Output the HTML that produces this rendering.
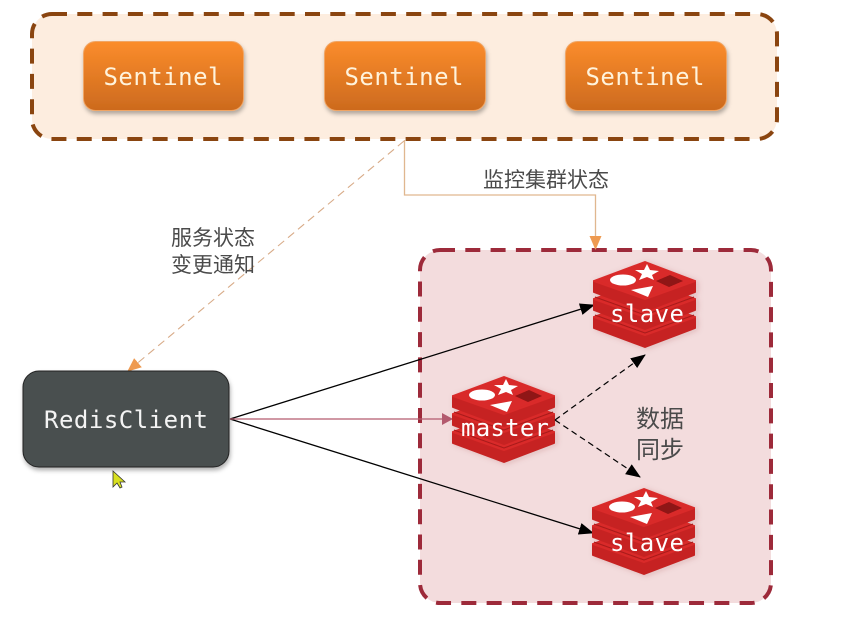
<!DOCTYPE html>
<html>
<head>
<meta charset="utf-8">
<style>
html,body{margin:0;padding:0;background:#fff;width:851px;height:617px;overflow:hidden}
svg{display:block}
.m{font-family:"DejaVu Sans Mono","Liberation Mono",monospace;font-size:24px;text-anchor:middle}
.c{font-family:"Liberation Sans","Noto Sans CJK SC",sans-serif;fill:#4a4a4a}
</style>
</head>
<body>
<svg width="851" height="617" viewBox="0 0 851 617" xmlns="http://www.w3.org/2000/svg">
<defs>
<linearGradient id="o" x1="0" y1="0" x2="0" y2="1">
<stop offset="0" stop-color="#fb8c2b"/><stop offset="1" stop-color="#cc6a1e"/>
</linearGradient>
<filter id="s" x="-10%" y="-10%" width="120%" height="130%"><feDropShadow dx="1" dy="3" stdDeviation="2" flood-color="#000" flood-opacity=".3"/></filter>
<filter id="b" x="-10%" y="-10%" width="120%" height="120%"><feDropShadow dx="2" dy="1" stdDeviation="3" flood-color="#7a2020" flood-opacity=".18"/></filter>
<marker id="ao" markerWidth="14" markerHeight="14" refX="13" refY="7" orient="auto" markerUnits="userSpaceOnUse"><path d="M0 1L14 7L0 13Z" fill="#ee9a50"/></marker>
<marker id="ak" markerWidth="15" markerHeight="14" refX="14" refY="7" orient="auto" markerUnits="userSpaceOnUse"><path d="M0 1L15 7L0 13Z" fill="#000"/></marker>
<marker id="ar" markerWidth="11" markerHeight="12" refX="10" refY="6" orient="auto" markerUnits="userSpaceOnUse"><path d="M0 0L11 6L0 12Z" fill="#b35a6e"/></marker>
<g id="l" stroke-linejoin="round">
<path d="M1 20V31L52 50L102 31V20Z" fill="#c62221" stroke="#c62221" stroke-width="2"/>
<path d="M1 20L52 1L102 20L52 38Z" fill="#d92a29" stroke="#d92a29" stroke-width="2"/>
</g>
<g id="r">
<use href="#l" y="36"/>
<path d="M2 54L52 72L101 54" fill="none" stroke="#a81a1a" stroke-width="1"/>
<use href="#l" y="18"/>
<path d="M2 36L52 54L101 36" fill="none" stroke="#a81a1a" stroke-width="1"/>
<use href="#l"/>
<path d="M54 3L57 9L66 10L59 14L61 19L54 16L46 19L49 13L42 9L51 9Z" fill="#fff"/>
<ellipse cx="30" cy="19" rx="13" ry="5.500" fill="#fff"/>
<path d="M38 29L60 25L55 36Z" fill="#fff"/>
<path d="M63 20L77 14L90 20L76 26Z" fill="#8f1212"/>
</g>
</defs>
<rect x="32" y="14" width="745" height="125" rx="20" fill="#fdeddf" stroke="#8a4510" stroke-width="4" stroke-dasharray="15 10.3"/>
<rect x="420" y="250" width="351" height="353" rx="20" fill="#f3dcdd" stroke="#9d2a3a" stroke-width="4" stroke-dasharray="15 10.3"/>
<rect x="83.500" y="41.500" width="160" height="69" rx="12" fill="url(#o)" stroke="#f0a565" filter="url(#s)"/>
<rect x="324.500" y="41.500" width="161" height="69" rx="12" fill="url(#o)" stroke="#f0a565" filter="url(#s)"/>
<rect x="565.500" y="41.500" width="161" height="69" rx="12" fill="url(#o)" stroke="#f0a565" filter="url(#s)"/>
<text x="163" y="85" class="m" fill="#fff3dc" textLength="119">Sentinel</text>
<text x="404" y="85" class="m" fill="#fff3dc" textLength="119">Sentinel</text>
<text x="645" y="85" class="m" fill="#fff3dc" textLength="119">Sentinel</text>
<path d="M404.500 140V195H595.500V249" fill="none" stroke="#e0b78f" stroke-width="1.300" marker-end="url(#ao)"/>
<path d="M404 141L128 371" fill="none" stroke="#d8ab88" stroke-width="1.100" stroke-dasharray="8 5" marker-end="url(#ao)"/>
<rect x="23" y="371" width="206" height="96" rx="16" fill="#4a5050" stroke="#222" stroke-width="1" filter="url(#s)"/>
<text x="126" y="428" class="m" fill="#f4f4f4" textLength="164">RedisClient</text>
<path d="M230 419L594 305" stroke="#000" stroke-width="1.300" marker-end="url(#ak)"/>
<path d="M230 419L593 533" stroke="#000" stroke-width="1.300" marker-end="url(#ak)"/>
<path d="M230 419H452" stroke="#b35a6e" stroke-width="1.300" marker-end="url(#ar)"/>
<use href="#r" x="593" y="261" filter="url(#b)"/>
<use href="#r" x="452" y="376" filter="url(#b)"/>
<use href="#r" x="592" y="488" filter="url(#b)"/>
<path d="M555 420L645 355" stroke="#000" stroke-width="1.200" stroke-dasharray="6 4" marker-end="url(#ak)"/>
<path d="M555 420L640 477" stroke="#000" stroke-width="1.200" stroke-dasharray="6 4" marker-end="url(#ak)"/>
<text x="647" y="322" class="m" fill="#fff" textLength="74">slave</text>
<text x="505" y="436" class="m" fill="#fff" textLength="88">master</text>
<text x="647" y="551" class="m" fill="#fff" textLength="74">slave</text>
<text x="483" y="187" class="c" font-size="21">监控集群状态</text>
<text x="171" y="245" class="c" font-size="21">服务状态</text>
<text x="171" y="272" class="c" font-size="21">变更通知</text>
<text x="636" y="427" class="c" font-size="24">数据</text>
<text x="636" y="458" class="c" font-size="24">同步</text>
<path d="M113 471V487L117 483L120 488L122 487L120 482L125 482Z" fill="#d8e020" stroke="#333" stroke-width=".8"/>
</svg>
</body>
</html>
